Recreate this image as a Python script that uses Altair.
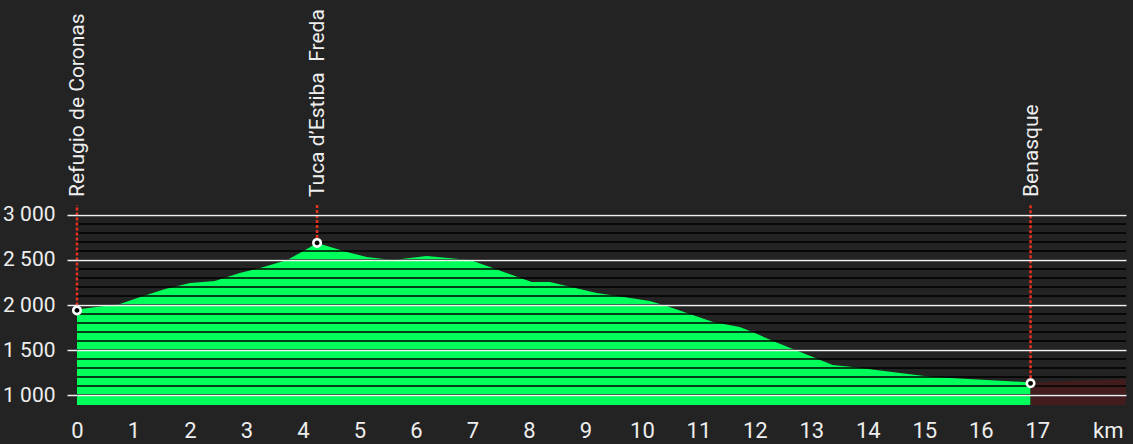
import altair as alt
import pandas as pd

# ---- data ----
dist_km = [0.00, 0.76, 1.12, 1.56, 2.00, 2.44, 2.88, 3.24, 3.72, 4.04, 4.25,
           4.78, 5.13, 5.59, 6.19, 6.96, 7.36, 8.05, 8.37, 9.20, 9.56, 10.14,
           10.44, 11.26, 11.73, 11.96, 12.32, 13.38, 13.73, 14.57, 15.15, 16.88]
elev_m = [1950, 2011, 2089, 2178, 2244, 2267, 2356, 2411, 2500, 2611, 2690,
          2589, 2533, 2500, 2544, 2500, 2411, 2256, 2256, 2133, 2100, 2044,
          1989, 1811, 1756, 1700, 1600, 1333, 1311, 1244, 1200, 1140]

ext_km = [16.88, 18.57]
ext_elev = [1140, 1178]

wp_names = ["Refugio de Coronas", "Tuca d\u2019Estiba\u00a0 Freda", "Benasque"]
wp_km = [0.00, 4.25, 16.88]
wp_elev = [1940, 2690, 1130]

x_ticks = list(range(0, 18))
y_labels = [1000, 1500, 2000, 2500, 3000]
y_minor = list(range(1000, 3001, 100))

X_MAX = 18.57
Y_MIN, Y_TOP = 889, 3111

# ---- styles ----
BG = "#232323"
GREEN = "#00ff5a"
DARKRED = "#431d1d"
RED = "#e8321e"
TXT = "#eeeeee"
FONT = "Roboto"

# dark page background (the chart fills the whole window)
try:
    import altair.utils.html as _h
    _orig_tpl = _h.TEMPLATES["standard"]

    class _DarkPage:
        def render(self, **kw):
            html = _orig_tpl.render(**kw)
            css = ("<style>html,body{margin:0;padding:0;background:%s;"
                   "overflow:hidden}</style>" % BG)
            if "<head>" in html:
                return html.replace("<head>", "<head>" + css, 1)
            return css + html

    _h.TEMPLATES["standard"] = _DarkPage()
except Exception:
    pass

profile = pd.DataFrame({"km": dist_km, "elev": elev_m})
ext = pd.DataFrame({"km": ext_km, "elev": ext_elev})
wps = pd.DataFrame({"name": wp_names, "km": wp_km, "elev": wp_elev})
minor = pd.DataFrame({"elev": y_minor})

xscale = alt.Scale(domain=[0, X_MAX], nice=False, zero=False)
yscale = alt.Scale(domain=[Y_MIN, Y_TOP], nice=False, zero=False)

x_axis = alt.Axis(values=x_ticks, format="d", ticks=False, tickSize=0, domain=False,
                  grid=False, labelFont=FONT, labelFontSize=22, labelColor=TXT,
                  labelPadding=15, labelFlush=False, title="km", titleFont=FONT,
                  titleFontSize=22, titleFontWeight="normal", titleColor=TXT,
                  titleAnchor="end", titleAlign="right", titleBaseline="top",
                  titleX=1046, titleY=15)
y_axis = alt.Axis(values=y_labels, grid=True, gridColor="#f2f2f2", gridWidth=1.5,
                  ticks=True, tickSize=10, tickColor="#f2f2f2", tickWidth=1.5,
                  domain=False, labelFont=FONT, labelFontSize=21, labelColor=TXT,
                  labelPadding=12,
                  labelExpr="replace(format(datum.value, ','), ',', ' ')",
                  title=None, zindex=1)

area = alt.Chart(profile).mark_area(color=GREEN, opacity=1, interpolate="linear").encode(
    x=alt.X("km:Q", scale=xscale, axis=x_axis),
    y=alt.Y("elev:Q", scale=yscale, axis=y_axis),
    y2=alt.datum(Y_MIN),
)

ext_area = alt.Chart(ext).mark_area(color=DARKRED, opacity=1).encode(
    x=alt.X("km:Q", scale=xscale),
    y=alt.Y("elev:Q", scale=yscale),
    y2=alt.datum(Y_MIN),
)

minor_rules = alt.Chart(minor).mark_rule(color="#000000", strokeWidth=1.5).encode(
    y=alt.Y("elev:Q", scale=yscale)
)

drops = alt.Chart(wps).mark_rule(color=RED, strokeWidth=2.5, strokeDash=[3, 2]).encode(
    x=alt.X("km:Q", scale=xscale),
    y=alt.Y("elev:Q", scale=yscale),
    y2=alt.datum(Y_TOP),
)

points = alt.Chart(wps).mark_point(filled=True, shape="circle", size=55, fill="#000000",
                                    stroke="#ffffff", strokeWidth=2.6, opacity=1).encode(
    x=alt.X("km:Q", scale=xscale),
    y=alt.Y("elev:Q", scale=yscale),
)

labels = alt.Chart(wps).mark_text(angle=270, align="left", baseline="middle", dx=8, dy=1,
                                  font=FONT, fontSize=21, color=TXT).encode(
    x=alt.X("km:Q", scale=xscale),
    y=alt.datum(Y_TOP),
    text="name:N",
)

chart = alt.layer(area, ext_area, minor_rules, drops, points, labels).properties(
    width=1049, height=200,
    autosize=alt.AutoSizeParams(type="none"),
    padding={"left": 77, "top": 205, "right": 7, "bottom": 39},
    background=BG,
).configure_view(stroke=None)

chart.save("out.html", embed_options={"renderer": "svg", "actions": False})
